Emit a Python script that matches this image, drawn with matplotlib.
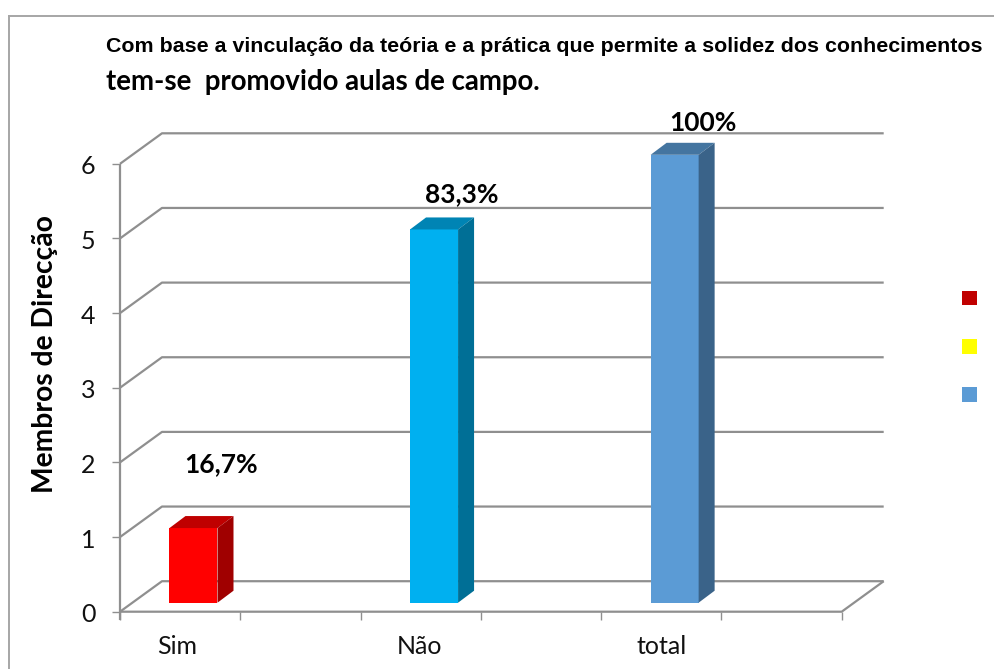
import matplotlib
matplotlib.use("Agg")
import matplotlib.pyplot as plt
from matplotlib.lines import Line2D
from matplotlib.patches import Polygon, Rectangle

title_top = "Com base a vinculação da teória e a prática que permite a solidez dos conhecimentos"
title_bottom = "tem-se  promovido aulas de campo."
ylabel = "Membros de Direcção"
categories = ["Sim", "Não", "total"]
values = [1, 5, 6]
bar_labels = ["16,7%", "83,3%", "100%"]
label_heights = [1.97, 5.59, 6.55]
front_colors = ["#ff0000", "#00b0f0", "#5b9bd5"]
top_colors = ["#bf0000", "#0084b4", "#4475a0"]
side_colors = ["#a00000", "#006f96", "#3a6389"]
legend_colors = ["#c00000", "#ffff00", "#5b9bd5"]
yticks = [0, 1, 2, 3, 4, 5, 6]
xticks = [0, 0.5, 1, 1.5, 2, 2.5, 3]

W, H = 995, 669
GRID = "#8f8f8f"

fig = plt.figure(figsize=(W / 100, H / 100), dpi=100)
# axes rectangle is the front plane of the fake 3d box
ax = fig.add_axes([120 / W, 1 - 611.7 / H, 721.7 / W, 447.9 / H])
ax.set_xlim(0, 3)
ax.set_ylim(0, 6)
ax.axis("off")

xpx = 3 / 721.7
ypx = 6 / 447.9
# wall depth and bar depth, in data units
dx, dy = 42 * xpx, 30.5 * ypx
bx, by = 16 * xpx, 12 * ypx
# bars stand a bit inside the floor
shift_y = 9 * ypx
bar_w = 48 * xpx
bar_left = 49.5 * xpx


def line(xs, ys, lw=1.6):
    ax.plot(xs, ys, color=GRID, lw=lw, clip_on=False, solid_capstyle="butt", zorder=1)


for t in yticks:
    line([0, dx, 3 + dx], [t, t + dy, t + dy])
    line([-8 * xpx, 0], [t, t], lw=1)
line([0, 0], [-8 * ypx, 6])
line([0, 3, 3 + dx], [0, 0, dy])
for t in xticks:
    line([t, t], [0, -8 * ypx], lw=1)

for i, v in enumerate(values):
    x0 = i + bar_left
    x1 = x0 + bar_w
    y0 = shift_y
    y1 = v + shift_y
    ax.add_patch(Rectangle((x0, y0), bar_w, y1 - y0, fc=front_colors[i], ec="none", zorder=3, clip_on=False))
    ax.add_patch(Polygon([(x0, y1), (x0 + bx, y1 + by), (x1 + bx, y1 + by), (x1, y1)],
                         fc=top_colors[i], ec="none", zorder=3, clip_on=False))
    ax.add_patch(Polygon([(x1, y0), (x1 + bx, y0 + by), (x1 + bx, y1 + by), (x1, y1)],
                         fc=side_colors[i], ec="none", zorder=3, clip_on=False))
    ax.text(x0 + bar_w / 2 + 28 * xpx, label_heights[i], bar_labels[i], ha="center", va="center",
            fontsize=19, fontweight="bold", family="Lato", color="black", zorder=5)
    ax.text(0.236 + i * 1.008, -35 * ypx, categories[i], ha="center", va="center",
            fontsize=18, family="Lato", color="#111111", clip_on=False)

for t in yticks:
    ax.text(-32 * xpx, t - 3 * ypx, str(t), ha="center", va="center", fontsize=18, family="Lato", color="#111111")

# outer frame and text go straight on the figure, in pixels
frame = dict(color="#a6a6a6", lw=1.4, transform=fig.transFigure)
fig.add_artist(Line2D([9 / W, 9 / W], [0, 1 - 15.5 / H], **frame))
fig.add_artist(Line2D([9 / W, 1], [1 - 15.5 / H, 1 - 15.5 / H], **frame))
fig.text(106 / W, 1 - 46 / H, title_top, fontsize=15.37, fontweight="bold", family="Liberation Sans",
         ha="left", va="center")
fig.text(106 / W, 1 - 82 / H, title_bottom, fontsize=19.9, fontweight="bold", family="Lato",
         ha="left", va="center")
fig.text(45 / W, 1 - 354 / H, ylabel, fontsize=20.3, fontweight="bold", family="Lato",
         rotation=90, ha="center", va="center")

for c, y in zip(legend_colors, [298, 346, 394]):
    fig.add_artist(Rectangle((962 / W, 1 - (y + 7.5) / H), 15 / W, 15 / H, transform=fig.transFigure,
                             fc=c, ec="none"))

fig.savefig("out.png", dpi=100)
